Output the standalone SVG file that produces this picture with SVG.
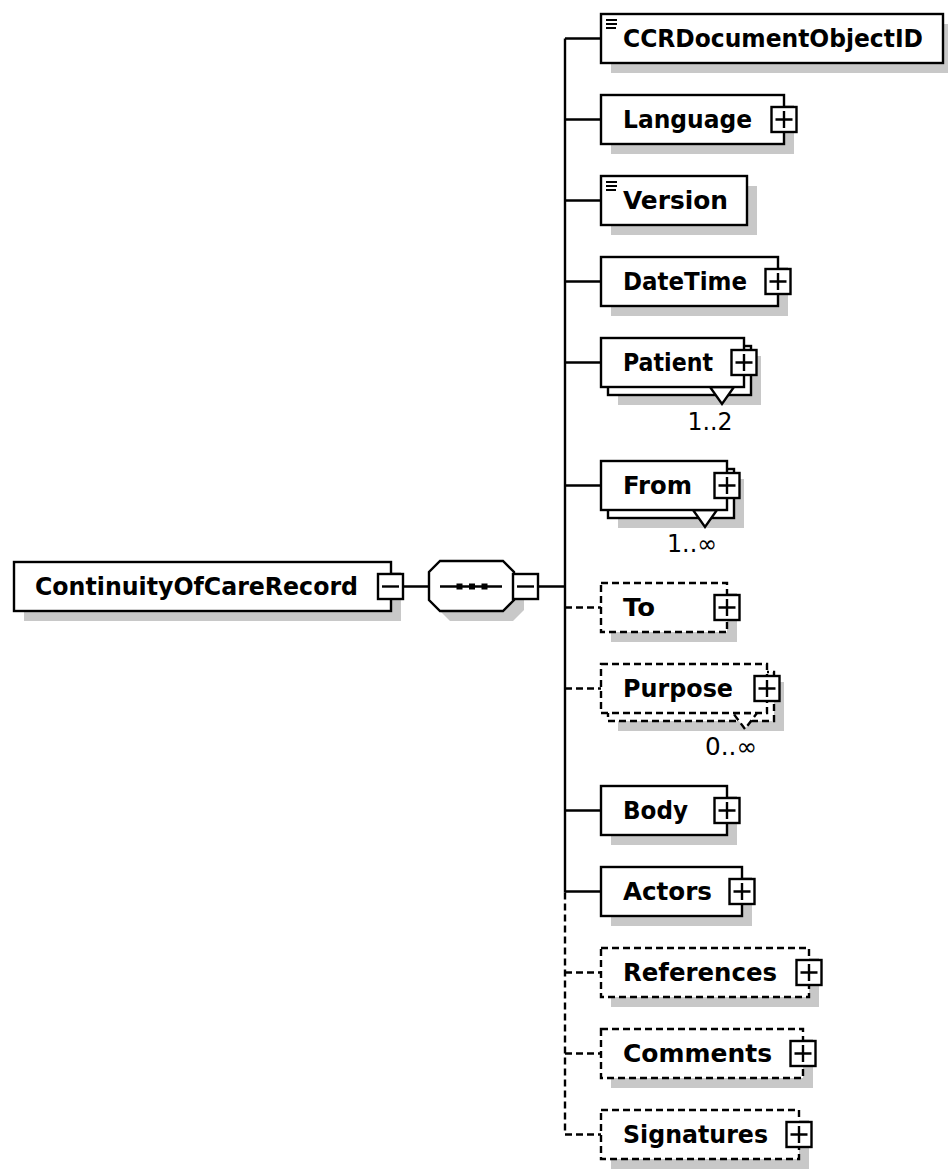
<svg xmlns="http://www.w3.org/2000/svg" xmlns:xlink="http://www.w3.org/1999/xlink" width="948" height="1169" viewBox="0 0 948 1169">
<style>
.box{fill:#fff;stroke:#000;stroke-width:2.4}
.opt{stroke-dasharray:7 4}
.sh{fill:#c8c8c8;stroke:none}
.ln{stroke:#000;stroke-width:2.4;fill:none}
.dl{stroke-dasharray:7 4}
.t{font-family:"DejaVu Sans",sans-serif;font-weight:bold;font-size:24px;fill:#000}
.m{font-family:"DejaVu Sans",sans-serif;font-size:24px;fill:#000;text-anchor:middle}
.ic{stroke:#000;stroke-width:2}
</style>
<defs>
<g id="plus"><rect x="0" y="0" width="25" height="25" class="box"/><path d="M4 12.5H21M12.5 4V21" class="ln"/></g>
<g id="minus"><rect x="0" y="0" width="25" height="25" class="box"/><path d="M4 12.5H21" class="ln"/></g>
<g id="eq"><path d="M5 6H16M5 10H16M5 14H15" class="ic"/></g>
</defs>
<rect width="948" height="1169" fill="#fff"/>

<g id="connectors">
<path class="ln" d="M403 586.5H428M538 586.5H565M565 38.5V892.5"/>
<path class="ln dl" d="M565 892.5V1134.5"/>
<path class="ln" d="M565 38.5H601M565 119.5H601M565 200.5H601M565 281.5H601M565 362.5H601M565 485.5H601M565 810.5H601M565 891.5H601"/>
<path class="ln dl" d="M565 607.5H601M565 688.5H601M565 972.5H601M565 1053.5H601M565 1134.5H601"/>
</g>

<g id="root">
<rect class="sh" x="24" y="572" width="377" height="49"/>
<rect class="box" x="14" y="562" width="377" height="49"/>
<text class="t" x="35" y="595" textLength="323" lengthAdjust="spacingAndGlyphs">ContinuityOfCareRecord</text>
<use xlink:href="#minus" x="378" y="574"/>
</g>

<g id="sequence">
<polygon class="sh" points="450,571 513,571 524,582 524,610 513,621 450,621 439,610 439,582"/>
<polygon class="box" points="440,561 503,561 514,572 514,600 503,611 440,611 429,600 429,572"/>
<path class="ln" d="M440 586.5H502"/>
<rect x="456.5" y="583.5" width="6" height="6" fill="#000"/>
<rect x="469" y="583.5" width="6" height="6" fill="#000"/>
<rect x="481.5" y="583.5" width="6" height="6" fill="#000"/>
<use xlink:href="#minus" x="513" y="574"/>
</g>

<g id="CCRDocumentObjectID">
<rect class="sh" x="611" y="24" width="342" height="49"/>
<rect class="box" x="601" y="14" width="342" height="49"/>
<use xlink:href="#eq" x="601" y="14"/>
<text class="t" x="623" y="47" textLength="300" lengthAdjust="spacingAndGlyphs">CCRDocumentObjectID</text>
</g>

<g id="Language">
<rect class="sh" x="611" y="105" width="183" height="49"/>
<rect class="box" x="601" y="95" width="183" height="49"/>
<text class="t" x="623" y="128" textLength="129" lengthAdjust="spacingAndGlyphs">Language</text>
<use xlink:href="#plus" x="771.5" y="107"/>
</g>

<g id="Version">
<rect class="sh" x="611" y="186" width="146" height="49"/>
<rect class="box" x="601" y="176" width="146" height="49"/>
<use xlink:href="#eq" x="601" y="176"/>
<text class="t" x="623" y="209" textLength="105" lengthAdjust="spacingAndGlyphs">Version</text>
</g>

<g id="DateTime">
<rect class="sh" x="611" y="267" width="177" height="49"/>
<rect class="box" x="601" y="257" width="177" height="49"/>
<text class="t" x="623" y="290" textLength="124" lengthAdjust="spacingAndGlyphs">DateTime</text>
<use xlink:href="#plus" x="765.5" y="269"/>
</g>

<g id="Patient">
<rect class="sh" x="618" y="356" width="143" height="49"/>
<rect class="box" x="608" y="346" width="143" height="49"/>
<polygon class="box" points="710,387 734,387 722,404"/>
<rect class="box" x="601" y="338" width="143" height="49"/>
<text class="t" x="623" y="371" textLength="90" lengthAdjust="spacingAndGlyphs">Patient</text>
<use xlink:href="#plus" x="731.5" y="350"/>
<text class="m" x="710" y="430" textLength="45" lengthAdjust="spacingAndGlyphs">1..2</text>
</g>

<g id="From">
<rect class="sh" x="618" y="479" width="126" height="49"/>
<rect class="box" x="608" y="469" width="126" height="49"/>
<polygon class="box" points="693,510 717,510 705,527"/>
<rect class="box" x="601" y="461" width="126" height="49"/>
<text class="t" x="623" y="494" textLength="69" lengthAdjust="spacingAndGlyphs">From</text>
<use xlink:href="#plus" x="714.5" y="473"/>
<text class="m" x="692" y="552" textLength="50" lengthAdjust="spacingAndGlyphs">1..∞</text>
</g>

<g id="To">
<rect class="sh" x="611" y="593" width="126" height="49"/>
<rect class="box opt" x="601" y="583" width="126" height="49"/>
<text class="t" x="623" y="616" textLength="32" lengthAdjust="spacingAndGlyphs">To</text>
<use xlink:href="#plus" x="714.5" y="595"/>
</g>

<g id="Purpose">
<rect class="sh" x="618" y="682" width="166" height="49"/>
<rect class="box opt" x="608" y="672" width="166" height="49"/>
<polygon class="box opt" points="733,713 757,713 745,729"/>
<rect class="box opt" x="601" y="664" width="166" height="49"/>
<text class="t" x="623" y="697" textLength="110" lengthAdjust="spacingAndGlyphs">Purpose</text>
<use xlink:href="#plus" x="754.5" y="676"/>
<text class="m" x="731" y="755" textLength="52" lengthAdjust="spacingAndGlyphs">0..∞</text>
</g>

<g id="Body">
<rect class="sh" x="611" y="796" width="126" height="49"/>
<rect class="box" x="601" y="786" width="126" height="49"/>
<text class="t" x="623" y="819" textLength="65" lengthAdjust="spacingAndGlyphs">Body</text>
<use xlink:href="#plus" x="714.5" y="798"/>
</g>

<g id="Actors">
<rect class="sh" x="611" y="877" width="141" height="49"/>
<rect class="box" x="601" y="867" width="141" height="49"/>
<text class="t" x="623" y="900" textLength="89" lengthAdjust="spacingAndGlyphs">Actors</text>
<use xlink:href="#plus" x="729.5" y="879"/>
</g>

<g id="References">
<rect class="sh" x="611" y="958" width="208" height="49"/>
<rect class="box opt" x="601" y="948" width="208" height="49"/>
<text class="t" x="623" y="981" textLength="154" lengthAdjust="spacingAndGlyphs">References</text>
<use xlink:href="#plus" x="796.5" y="960"/>
</g>

<g id="Comments">
<rect class="sh" x="611" y="1039" width="202" height="49"/>
<rect class="box opt" x="601" y="1029" width="202" height="49"/>
<text class="t" x="623" y="1062" textLength="149" lengthAdjust="spacingAndGlyphs">Comments</text>
<use xlink:href="#plus" x="790.5" y="1041"/>
</g>

<g id="Signatures">
<rect class="sh" x="611" y="1120" width="198" height="49"/>
<rect class="box opt" x="601" y="1110" width="198" height="49"/>
<text class="t" x="623" y="1143" textLength="145" lengthAdjust="spacingAndGlyphs">Signatures</text>
<use xlink:href="#plus" x="786.5" y="1122"/>
</g>
</svg>
